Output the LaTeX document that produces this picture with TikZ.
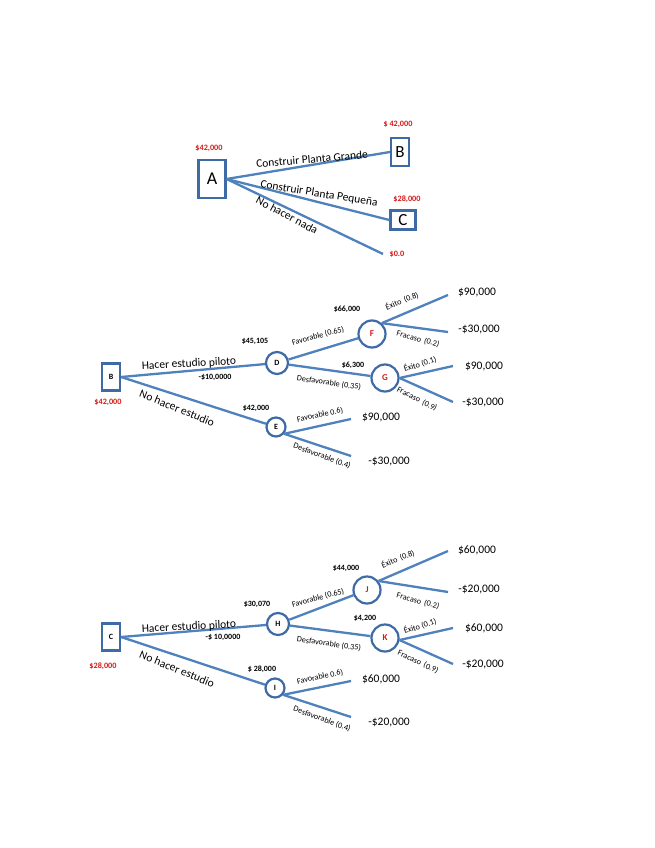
\documentclass[tikz,border=0pt]{standalone}
\usepackage{fontspec}
\setmainfont{Carlito}
\definecolor{lblue}{RGB}{79,129,189}
\definecolor{sblue}{RGB}{62,106,166}
\definecolor{vred}{RGB}{215,25,25}
\begin{document}
\begin{tikzpicture}[x=1pt,y=-1pt,
  conn/.style={draw=lblue,line width=2.3pt},
  dbox/.style={rectangle,draw=sblue,line width=2.2pt,fill=white,inner sep=0pt},
  chance/.style={circle,draw=sblue,line width=2.2pt,fill=white,inner sep=0pt},
  tiny/.style={font=\fontsize{8.2}{9}\selectfont,inner sep=0pt},
  ev/.style={font=\fontsize{8}{9}\selectfont\bfseries,inner sep=0pt},
  redv/.style={font=\fontsize{8.2}{9}\selectfont\bfseries,text=vred,inner sep=0pt},
  big/.style={font=\fontsize{11.5}{13}\selectfont,inner sep=0pt},
  payoff/.style={font=\fontsize{11.5}{13}\selectfont,inner sep=0pt},
  cletter/.style={font=\fontsize{8}{9}\selectfont\bfseries},
  rletter/.style={font=\fontsize{9}{10}\selectfont\bfseries,text=vred}]
\useasboundingbox (0,0) rectangle (655,848);
\fill[white] (0,0) rectangle (655,848);

% ---------- Tree 1 ----------
\node[dbox,minimum width=27pt,minimum height=38pt,font=\fontsize{18}{20}\selectfont] (A) at (212,179) {A};
\node[dbox,minimum width=18pt,minimum height=28pt,font=\fontsize{17}{19}\selectfont] (B1) at (400,152) {B};
\node[dbox,minimum width=25pt,minimum height=19pt,font=\fontsize{17}{19}\selectfont] (C1) at (403,220) {C};
\coordinate (a3) at (383,254);
\draw[conn] (A.east) -- (B1.west);
\draw[conn] (A.east) -- (C1.west);
\draw[conn] (A.east) -- (a3);
\node[redv] (rA) at (209,148) {\$42,000};
\node[redv] (rB) at (398,124) {\$ 42,000};
\node[redv] (rC) at (407,199) {\$28,000};
\node[redv] (r0) at (397,254) {\$0.0};
\node[big,rotate=5] (t1) at (312,159) {Construir Planta Grande};
\node[big,rotate=-9] (t2) at (319,194) {Construir Planta Pequeña};
\node[big,rotate=-28] (t3) at (287,215) {No hacer nada};

% ---------- Tree 2 ----------
\node[dbox,minimum width=18pt,minimum height=27pt,cletter] (B2) at (111,377) {B};
\node[chance,minimum size=22pt,cletter] (D) at (277,363) {D};
\node[chance,minimum size=19pt,cletter] (E) at (276,427) {E};
\node[chance,minimum size=27pt,rletter] (F) at (372,334) {F};
\node[chance,minimum size=27pt,rletter] (G) at (385,378) {G};
\coordinate (f1) at (448,295);
\coordinate (f2) at (448,332);
\coordinate (g1) at (453,366);
\coordinate (g2) at (453,402);
\coordinate (e1) at (351,419);
\coordinate (e2) at (351,456);
\draw[conn] (B2.east) -- (D);
\draw[conn] (B2.east) -- (E);
\draw[conn] (D) -- (F);
\draw[conn] (D) -- (G);
\draw[conn] (F.48) -- (f1);
\draw[conn] (F.48) -- (f2);
\draw[conn] (G.east) -- (g1);
\draw[conn] (G.east) -- (g2);
\draw[conn] (E.-40) -- (e1);
\draw[conn] (E.-40) -- (e2);
\node[redv] (rB2) at (108,402) {\$42,000};
\node[big,rotate=3] (h2) at (189,364) {Hacer estudio piloto};
\node[ev] (c2) at (215,377) {-\$10,0000};
\node[big,rotate=-22] (n2) at (177,408) {No hacer estudio};
\node[ev] (vD) at (255,341) {\$45,105};
\node[ev] (vE) at (256,408) {\$42,000};
\node[ev] (vF) at (347,309) {\$66,000};
\node[ev] (vG) at (353,365) {\$6,300};
\node[tiny,rotate=15] (fa2) at (318,336) {Favorable (0.65)};
\node[tiny,rotate=-8] (de2) at (329,383) {Desfavorable (0.35)};
\node[tiny,rotate=22] (ex2) at (402,301) {Éxito\, (0.8)};
\node[tiny,rotate=-15] (fr2) at (418,339) {Fracaso\, (0.2)};
\node[tiny,rotate=18] (ex3) at (420,364) {Éxito (0.1)};
\node[tiny,rotate=-27] (fr3) at (417,399) {Fracaso\, (0.9)};
\node[tiny,rotate=12] (fa3) at (320,415) {Favorable 0.6)};
\node[tiny,rotate=-20] (de3) at (322,456) {Desfavorable (0.4)};
\node[payoff] (p1) at (477,293) {\$90,000};
\node[payoff] (p2) at (479,330) {-\$30,000};
\node[payoff] (p3) at (484,367) {\$90,000};
\node[payoff] (p4) at (483,403) {-\$30,000};
\node[payoff] (p5) at (381,418) {\$90,000};
\node[payoff] (p6) at (389,461) {-\$30,000};

% ---------- Tree 3 ----------
\node[dbox,minimum width=18pt,minimum height=27pt,cletter] (C2) at (111,637) {C};
\node[chance,minimum size=22pt,cletter] (H) at (278,624) {H};
\node[chance,minimum size=19pt,cletter] (I) at (275,688) {I};
\node[chance,minimum size=27pt,rletter] (J) at (367,590) {J};
\node[chance,minimum size=27pt,rletter] (K) at (385,638) {K};
\coordinate (j1) at (448,551);
\coordinate (j2) at (448,592);
\coordinate (k1) at (453,628);
\coordinate (k2) at (453,664);
\coordinate (i1) at (351,681);
\coordinate (i2) at (351,717);
\draw[conn] (C2.east) -- (H);
\draw[conn] (C2.east) -- (I);
\draw[conn] (H) -- (J);
\draw[conn] (H) -- (K);
\draw[conn] (J.38) -- (j1);
\draw[conn] (J.38) -- (j2);
\draw[conn] (K.-8) -- (k1);
\draw[conn] (K.-8) -- (k2);
\draw[conn] (I.-40) -- (i1);
\draw[conn] (I.-40) -- (i2);
\node[redv] (rC2) at (103,666) {\$28,000};
\node[big,rotate=3] (h3) at (189,627) {Hacer estudio piloto};
\node[ev] (c3) at (223,637) {-\$ 10,0000};
\node[big,rotate=-22] (n3) at (177,669) {No hacer estudio};
\node[ev] (vH) at (257,604) {\$30,070};
\node[ev] (vI) at (262,669) {\$ 28,000};
\node[ev] (vJ) at (346,568) {\$44,000};
\node[ev] (vK) at (365,618) {\$4,200};
\node[tiny,rotate=15] (fa4) at (318,598) {Favorable (0.65)};
\node[tiny,rotate=-8] (de4) at (329,644) {Desfavorable (0.35)};
\node[tiny,rotate=22] (ex4) at (398,559) {Éxito\, (0.8)};
\node[tiny,rotate=-15] (fr4) at (418,601) {Fracaso\, (0.2)};
\node[tiny,rotate=18] (ex5) at (420,626) {Éxito (0.1)};
\node[tiny,rotate=-25] (fr5) at (418,662) {Fracaso\, (0.9)};
\node[tiny,rotate=12] (fa5) at (320,677) {Favorable 0.6)};
\node[tiny,rotate=-20] (de5) at (322,719) {Desfavorable (0.4)};
\node[payoff] (q1) at (477,550) {\$60,000};
\node[payoff] (q2) at (479,589) {-\$20,000};
\node[payoff] (q3) at (484,628) {\$60,000};
\node[payoff] (q4) at (483,664) {-\$20,000};
\node[payoff] (q5) at (381,679) {\$60,000};
\node[payoff] (q6) at (389,722) {-\$20,000};
\end{tikzpicture}
\end{document}
